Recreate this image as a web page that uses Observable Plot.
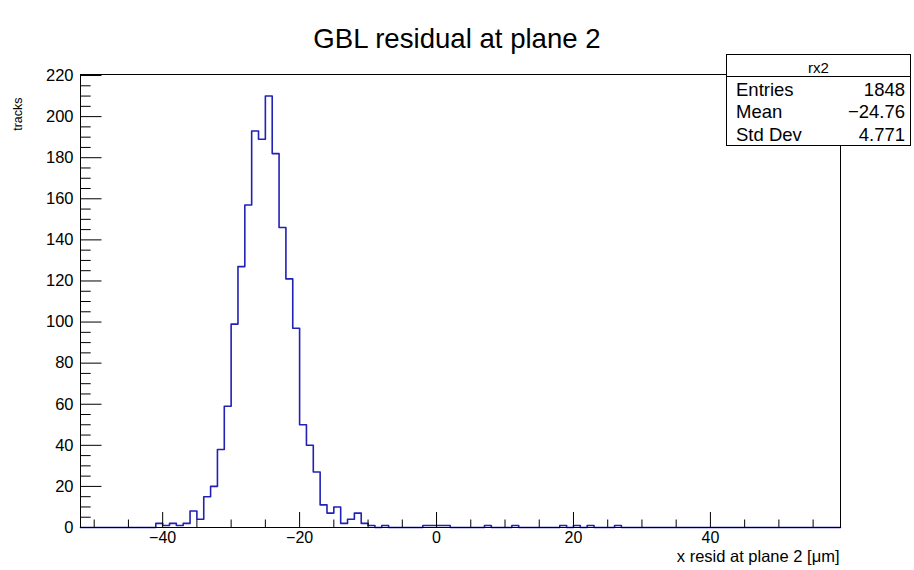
<!DOCTYPE html>
<html>
<head>
<meta charset="utf-8">
<script src="https://cdn.jsdelivr.net/npm/d3@7"></script>
<script src="https://cdn.jsdelivr.net/npm/@observablehq/plot@0.6"></script>
<style>
  body { margin: 0; background: #fff; }
  #wrap { position: relative; width: 914px; height: 570px; font-family: "Liberation Sans", Arial, Helvetica, sans-serif; color: #000; }
  #title { position: absolute; left: 0; top: 25px; width: 914px; text-align: center; font-size: 27.6px; line-height: 27px; }
  #stats { position: absolute; left: 726px; top: 54px; width: 185px; height: 92px; box-sizing: border-box; border: 1px solid #000; background: #fff; }
  #stats .sep { position: absolute; left: 0; right: 0; top: 21px; height: 1px; background: #000; }
  #stats .head { position: absolute; left: 0; right: 0; top: 5px; text-align: center; font-size: 15px; line-height: 15px; }
  #stats .lab { position: absolute; left: 9px; font-size: 18.5px; line-height: 18px; }
  #stats .val { position: absolute; right: 5px; font-size: 18.5px; line-height: 18px; text-align: right; }
  #plot { position: absolute; left: 0; top: 0; }
</style>
</head>
<body>
<div id="wrap">
  <div id="plot"></div>
  <div id="title"></div>
  <div id="stats"></div>
</div>
<script>
// ---- data (bin lower edge, width 1) ----
const binLow = [-41, -40, -39, -38, -37, -36, -35, -34, -33, -32, -31, -30, -29, -28, -27, -26, -25, -24, -23, -22, -21, -20, -19, -18, -17, -16, -15, -14, -13, -12, -11, -10, -8, -2, -1, 0, 1, 7, 11, 18, 20, 22, 26];
const counts = [2, 1, 2, 1, 2, 8, 4, 15, 20, 38, 59, 99, 127, 157, 193, 189, 210, 182, 146, 121, 97, 50, 40, 27, 11, 7, 10, 2, 4, 7, 2, 1, 1, 1, 1, 1, 1, 1, 1, 1, 1, 1, 1];
const xRange = [-52, 59];
const yMax = 220.5;
const xTickLabels = [-40, -20, 0, 20, 40];
const xMinorTicks = [-50, -45, -35, -30, -25, -15, -10, -5, 5, 10, 15, 25, 30, 35, 45, 50, 55];
const yTickLabels = [0, 20, 40, 60, 80, 100, 120, 140, 160, 180, 200, 220];
const yMinorTicks = [5, 10, 15, 25, 30, 35, 45, 50, 55, 65, 70, 75, 85, 90, 95, 105, 110, 115, 125, 130, 135, 145, 150, 155, 165, 170, 175, 185, 190, 195, 205, 210, 215];
const titleText = "GBL residual at plane 2";
const xTitle = "x resid at plane 2 [\u03bcm]";
const yTitle = "tracks";
const statName = "rx2";
const statLabels = ["Entries", "Mean", "Std Dev"];
const statValues = ["1848", "\u221224.76", "4.771"];

// ---- build the step outline over the full axis range ----
const countByLow = new Map(binLow.map((b, i) => [b, counts[i]]));
const steps = [];
for (let lo = xRange[0]; lo < xRange[1]; lo++) steps.push({x: lo, y: countByLow.get(lo) || 0});
steps.push({x: xRange[1], y: 0});

const W = 914, H = 570, mL = 80, mR = 74, mT = 74, mB = 43;
const innerW = W - mL - mR, innerH = H - mT - mB;
const FONT = '"Liberation Sans", Arial, Helvetica, sans-serif';

const chart = Plot.plot({
  width: W, height: H,
  marginLeft: mL, marginRight: mR, marginTop: mT, marginBottom: mB,
  x: {domain: xRange},
  y: {domain: [0, yMax]},
  style: {fontFamily: FONT, fontSize: "16.5px", color: "#000", background: "#fff", overflow: "visible"},
  marks: [
    Plot.line(steps, {x: "x", y: "y", curve: "step-after", stroke: "#2121b5", strokeWidth: 1.6}),
    Plot.frame({stroke: "#000", strokeWidth: 1}),
    Plot.ruleX(xTickLabels, {x: d => d, insetTop: innerH - 15, stroke: "#000"}),
    Plot.ruleX(xMinorTicks, {x: d => d, insetTop: innerH - 7.5, stroke: "#000"}),
    Plot.ruleY(yTickLabels, {y: d => d, insetRight: innerW - 21.5, stroke: "#000"}),
    Plot.ruleY(yMinorTicks, {y: d => d, insetRight: innerW - 10.7, stroke: "#000"}),
    Plot.axisX(xTickLabels, {tickSize: 0, tickPadding: 4, label: null, fill: "#000", fontSize: 16}),
    Plot.axisY(yTickLabels, {tickSize: 0, tickPadding: 7, label: null, fill: "#000", fontSize: 16.5}),
    Plot.text([xTitle], {text: d => d, frameAnchor: "bottom-right", dx: -1, dy: 34, textAnchor: "end", fontSize: 16.5, fill: "#000"}),
    Plot.text([yTitle], {text: d => d, frameAnchor: "top-left", dx: -67, dy: 23, rotate: -90, textAnchor: "end", fontSize: 12.5, fill: "#000"})
  ]
});
document.getElementById("plot").appendChild(chart);

// ---- title and statistics box ----
document.getElementById("title").textContent = titleText;
const stats = document.getElementById("stats");
const head = document.createElement("div");
head.className = "head"; head.textContent = statName; stats.appendChild(head);
const sep = document.createElement("div"); sep.className = "sep"; stats.appendChild(sep);
const rowTops = [25.5, 48, 70.5];
statLabels.forEach((l, i) => {
  const a = document.createElement("div"); a.className = "lab"; a.style.top = rowTops[i] + "px"; a.textContent = l; stats.appendChild(a);
  const b = document.createElement("div"); b.className = "val"; b.style.top = rowTops[i] + "px"; b.textContent = statValues[i]; stats.appendChild(b);
});
</script>
</body>
</html>
